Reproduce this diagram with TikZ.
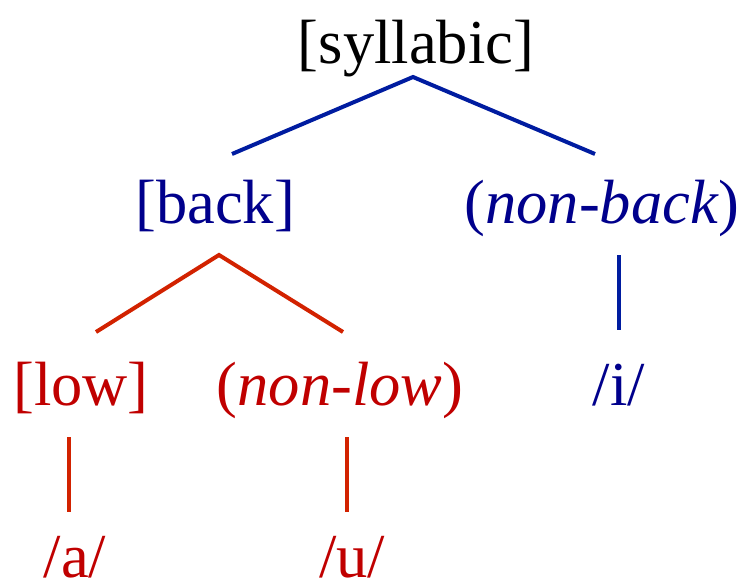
\documentclass[tikz,border=0pt]{standalone}
\usepackage{fontspec}
\setmainfont{Liberation Serif}
\usepackage{xcolor}
\usetikzlibrary{calc}
\definecolor{featblue}{RGB}{0, 0, 140}
\definecolor{branchblue}{RGB}{0, 28, 160}
\definecolor{featred}{RGB}{192, 0, 0}
\definecolor{branchred}{RGB}{210, 34, 0}

\begin{document}
\begin{tikzpicture}[x=1pt, y=-1pt,
    feat/.style={anchor=base, inner sep=0pt, font=\fontsize{62.5}{70}\selectfont},
    bluebranch/.style={draw=branchblue, line width=4pt},
    redbranch/.style={draw=branchred, line width=4pt}]
    \useasboundingbox (0,0) rectangle (746,585);

    % feature nodes
    \node[feat] (syl) at (416,64) {[syllabic]};
    \node[feat, featblue] (back) at (215,224) {[back]};
    \node[feat, featblue] (nonback) at (602,224) {(\textit{non-back})};
    \node[feat, featred] (low) at (81,405) {[low]};
    \node[feat, featred] (nonlow) at (340,405) {(\textit{non-low})};
    \node[feat, featblue] (vi) at (619,405) {/i/};
    \node[feat, featred] (va) at (75,577) {/a/};
    \node[feat, featred] (vu) at (352,577) {/u/};

    % blue branches
    \draw[bluebranch] ($(back.base)+(17,-70)$) -- ($(syl.base)+(-3,13)$) -- ($(nonback.base)+(-7,-70)$);
    \draw[bluebranch] ($(nonback.base)+(17,31)$) -- ($(vi.base)+(0,-75)$);

    % red branches
    \draw[redbranch] ($(low.base)+(15,-73)$) -- ($(back.base)+(4,31)$) -- ($(nonlow.base)+(3,-73)$);
    \draw[redbranch] ($(low.base)+(-12,32)$) -- ($(va.base)+(-6,-65)$);
    \draw[redbranch] ($(nonlow.base)+(7,32)$) -- ($(vu.base)+(-5,-65)$);
\end{tikzpicture}
\end{document}
